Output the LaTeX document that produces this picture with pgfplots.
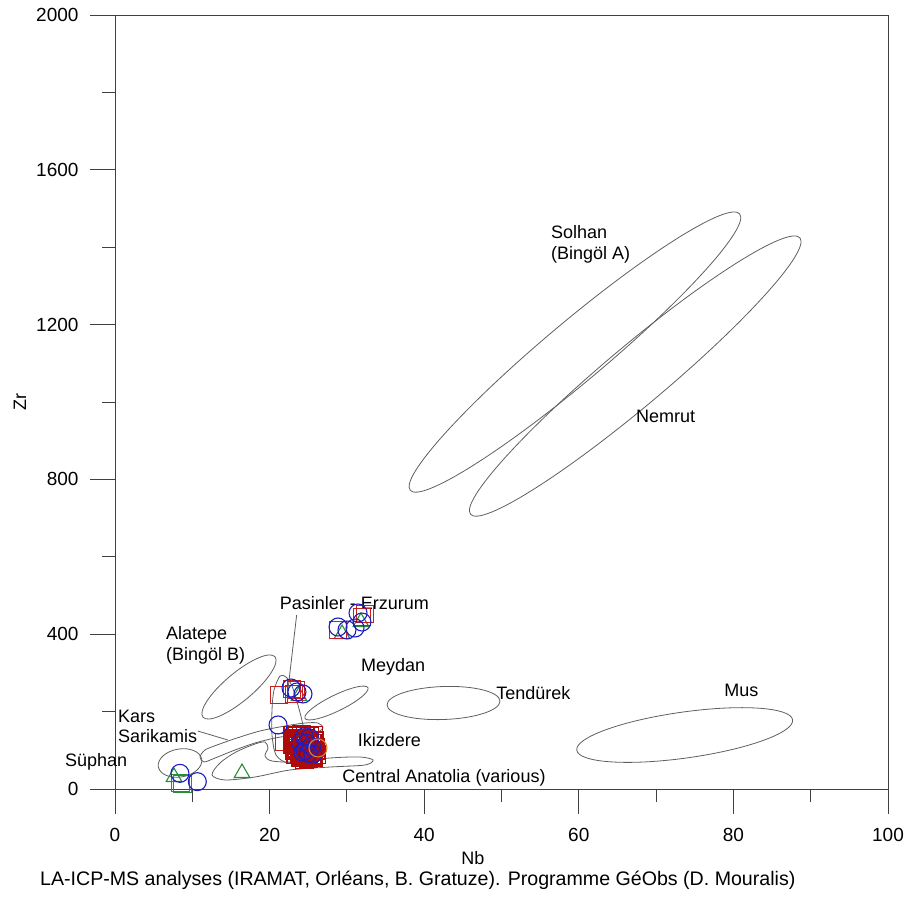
\documentclass[border=0pt]{standalone}
\usepackage{pgfplots}
\pgfplotsset{compat=1.18}
\usepackage{fontspec}
\setmainfont{Liberation Sans}
\definecolor{cblue}{RGB}{30,30,190}
\definecolor{cred}{RGB}{200,30,30}
\definecolor{cdred}{RGB}{175,10,10}
\definecolor{cgreen}{RGB}{40,140,60}
\definecolor{corange}{RGB}{215,130,60}
\definecolor{cline}{RGB}{95,95,95}
\tikzset{
  lbl/.style={font=\fontsize{18}{20.5}\selectfont, inner sep=0pt, anchor=west, align=left},
  field/.style={draw=cline, line width=0.8pt},
}
\begin{document}
\begin{tikzpicture}
\begin{axis}[
    scale only axis,
    width=773pt, height=774pt,
    xmin=0, xmax=100, ymin=0, ymax=2000,
    xtick={0,20,...,100}, minor xtick={10,30,...,90},
    ytick={0,400,...,2000}, minor ytick={200,600,...,1800},
    tick pos=left, tick align=outside,
    major tick length=25pt, minor tick length=13pt,
    axis line style={draw=black!75, line width=0.9pt},
    every tick/.append style={draw=black!75, line width=0.9pt},
    tick label style={font=\fontsize{19}{21}\selectfont},
    xticklabel style={yshift=-11pt},
    yticklabel style={xshift=-8pt},
    /pgf/number format/assume math mode=true,
    /pgf/number format/1000 sep={},
    xlabel={Nb}, ylabel={Zr},
    label style={font=\fontsize{18}{20}\selectfont},
    xlabel style={at={(axis description cs:0.463,-0.0891)}, anchor=center},
    ylabel style={at={(axis description cs:-0.123,0.5)}, anchor=center},
    clip=false,
]
\coordinate (O) at (rel axis cs:0,0);

% fields
\draw[field, rotate around={40:(axis cs:59.5,1129)}] (axis cs:59.5,1129) ellipse [x radius=215pt, y radius=30pt];
\draw[field, rotate around={40:(axis cs:67.3,1067)}] (axis cs:67.3,1067) ellipse [x radius=215pt, y radius=30pt];
\draw[field, rotate around={40:(axis cs:16.04,263.6)}] (axis cs:16.04,263.6) ellipse [x radius=47pt, y radius=14pt];
\draw[field, rotate around={26:(axis cs:28.65,222.2)}] (axis cs:28.65,222.2) ellipse [x radius=35pt, y radius=8pt];
\draw[field, rotate around={2:(axis cs:42.5,222.2)}] (axis cs:42.5,222.2) ellipse [x radius=56.5pt, y radius=16.5pt];
\draw[field, rotate around={8:(axis cs:73.7,139.5)}] (axis cs:73.7,139.5) ellipse [x radius=109pt, y radius=23pt];
\draw[field, rotate around={10:(axis cs:8.41,67.2)}] (axis cs:8.41,67.2) ellipse [x radius=22pt, y radius=14pt];
% Pasinler
\draw[field] plot[smooth cycle] coordinates {
  (axis cs:21.35,292.0) (axis cs:20.57,255.8) (axis cs:20.31,204.1) (axis cs:20.31,139.5)
  (axis cs:20.83,87.9) (axis cs:22.38,67.2) (axis cs:24.19,82.7) (axis cs:24.71,113.7)
  (axis cs:24.32,165.4) (axis cs:23.67,217.1) (axis cs:22.90,266.2) (axis cs:22.12,289.4)};
% Kars - Sarikamis / Ikizdere
\draw[field] plot[smooth cycle] coordinates {
  (axis cs:11.0,82.7) (axis cs:11.64,100.8) (axis cs:13.2,113.7) (axis cs:15.78,131.8)
  (axis cs:18.76,149.9) (axis cs:21.99,162.8) (axis cs:24.58,170.5) (axis cs:26.26,170.5)
  (axis cs:26.91,157.6) (axis cs:25.87,144.7) (axis cs:23.29,139.5) (axis cs:20.70,131.8)
  (axis cs:18.11,118.9) (axis cs:15.52,100.8) (axis cs:12.94,80.1) (axis cs:11.51,69.8)};
% Central Anatolia
\draw[field] plot[smooth cycle] coordinates {
  (axis cs:12.55,36.2) (axis cs:13.58,67.2) (axis cs:15.65,95.6) (axis cs:18.11,116.3)
  (axis cs:19.40,121.4) (axis cs:19.79,105.9) (axis cs:19.40,85.3) (axis cs:20.31,72.4)
  (axis cs:23.29,69.8) (axis cs:27.81,80.1) (axis cs:31.69,82.7) (axis cs:33.38,74.9)
  (axis cs:32.34,62.0) (axis cs:27.81,56.8) (axis cs:22.64,49.1) (axis cs:18.11,31.0)
  (axis cs:14.23,23.3)};
% leader lines
\draw[field] (axis cs:23.5,449.6) -- (axis cs:22.4,261);
\draw[field] (axis cs:10.7,149.9) -- (axis cs:14.6,126.6);

% green triangles and squares
\addplot[only marks, mark=triangle, mark size=9pt, mark options={draw=cgreen, line width=1.1pt}] coordinates {
  (7.63,31) (16.43,41.3) (23.80,240.3) (29.37,400.5) (31.82,431.5)
};
\addplot[only marks, mark=square, mark size=8.7pt, mark options={draw=cgreen, line width=1.1pt}] coordinates {
  (8.47,15.5) (8.73,12.9)
};
% red squares
\addplot[only marks, mark=square, mark size=8.7pt, mark options={draw=cred, line width=1.1pt}] coordinates {
  (28.85,410.9) (31.95,444.5) (32.34,452.2)
  (21.22,242.9) (22.90,258.4) (23.42,255.8) (23.16,245.5)
  (21.86,121.4)
};
% red squares, dense Pasinler cluster
\addplot[only marks, mark=square, mark size=8.7pt, mark options={draw=cdred, line width=1.5pt}] coordinates {
  (23.0,139) (23.5,137) (24.1,140) (24.6,138) (25.2,136) (25.7,139)
  (23.1,128) (23.6,124) (24.3,126) (25.0,122) (25.8,125) (23.4,131) (24.7,130)
  (23.0,115) (23.7,112) (24.4,110) (25.1,114) (25.9,108) (23.3,119) (24.0,118) (25.5,118)
  (23.2,100) (23.9,98) (24.6,102) (25.3,96) (26.0,100) (23.6,105) (24.9,106)
  (23.4,88) (24.2,85) (24.9,90) (25.5,84) (26.1,88) (23.8,92) (25.2,93)
  (24.0,80) (25.0,78) (25.7,80) (24.5,76)
};
% blue circles
\addplot[only marks, mark=o, mark size=9pt, mark options={draw=cblue, line width=1.1pt}] coordinates {
  (28.85,418.6) (30.01,410.9) (31.05,416.0) (31.44,454.8) (31.95,431.5)
  (22.77,261.0) (24.32,245.5) (23.54,250.7)
  (21.09,165.4)
  (24.5,135) (25.2,132) (24.0,120) (24.8,118) (25.4,110) (24.3,95) (25.0,92) (25.6,90) (24.6,100)
  (8.4,40.5) (10.65,19)
};
% orange circles
\addplot[only marks, mark=o, mark size=9pt, mark options={draw=corange, line width=1.1pt}] coordinates {
  (26.26,106)
};

% labels
\node[lbl] at (axis cs:56.4,1407) {Solhan\\(Bingöl A)};
\node[lbl] at (axis cs:67.4,963.8) {Nemrut};
\node[lbl] at (axis cs:21.3,480.6) {Pasinler - Erzurum};
\node[lbl] at (axis cs:6.6,370.8) {Alatepe\\(Bingöl B)};
\node[lbl] at (axis cs:31.8,315.2) {Meydan};
\node[lbl] at (axis cs:49.3,248) {Tendürek};
\node[lbl] at (axis cs:78.8,255.8) {Mus};
\node[lbl] at (axis cs:0.39,161.5) {Kars\\Sarikamis};
\node[lbl] at (axis cs:31.4,126.6) {Ikizdere};
\node[lbl] at (axis cs:-6.47,69.8) {Süphan};
\node[lbl] at (axis cs:29.4,28.4) {Central Anatolia (various)};
\node[lbl, font=\fontsize{19.6}{22}\selectfont] at (axis cs:-9.7,-235) {LA-ICP-MS analyses (IRAMAT, Orléans, B. Gratuze). Programme GéObs (D. Mouralis)};
\end{axis}
\path ([shift={(-115pt,-113pt)}]O) rectangle ([shift={(795pt,789pt)}]O);
\end{tikzpicture}
\end{document}
